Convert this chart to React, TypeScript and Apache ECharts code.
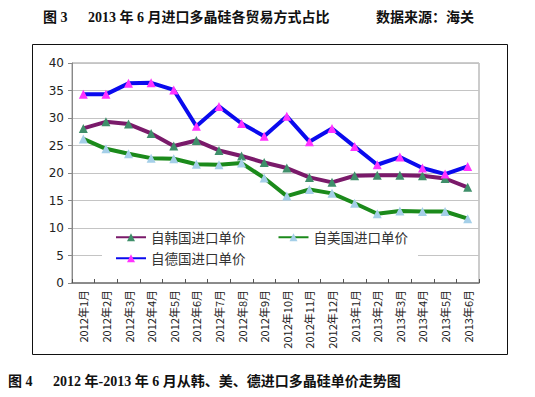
import React, { useEffect, useRef } from "react";
import * as echarts from "echarts";

const categories = [
  "2012年1月", "2012年2月", "2012年3月", "2012年4月", "2012年5月", "2012年6月",
  "2012年7月", "2012年8月", "2012年9月", "2012年10月", "2012年11月", "2012年12月",
  "2013年1月", "2013年2月", "2013年3月", "2013年4月", "2013年5月", "2013年6月",
];

const korea = [28.1, 29.3, 28.9, 27.2, 24.9, 25.9, 24.1, 23.1, 21.9, 20.9, 19.2, 18.3, 19.5, 19.6, 19.6, 19.5, 19.0, 17.4];
const usa = [26.2, 24.4, 23.5, 22.7, 22.6, 21.6, 21.5, 21.8, 19.1, 15.8, 17.0, 16.3, 14.5, 12.6, 13.1, 13.0, 13.0, 11.7];
const germany = [34.3, 34.3, 36.3, 36.4, 35.1, 28.5, 32.1, 29.0, 26.7, 30.3, 25.7, 28.1, 24.8, 21.5, 22.9, 20.9, 19.8, 21.2];

const seriesNames = ["自韩国进口单价", "自美国进口单价", "自德国进口单价"];

const topTitleLeft = "图 3";
const topTitle = "2013 年 6 月进口多晶硅各贸易方式占比";
const topSource = "数据来源：海关";
const bottomTitleLeft = "图 4";
const bottomTitle = "2012 年-2013 年 6 月从韩、美、德进口多晶硅单价走势图";

export default function App() {
  const ref = useRef<HTMLDivElement>(null);
  useEffect(() => {
    if (!ref.current) return;
    const chart = echarts.init(ref.current, undefined, { renderer: "svg" });
    const cjk = "'Noto Sans CJK SC', 'Noto Sans', sans-serif";
    const titleFont = "'Liberation Serif', 'Noto Sans CJK SC', serif";
    const legendText = { fontSize: 13.5, color: "#333", fontFamily: cjk, lineHeight: 13 };
    chart.setOption({
      animation: false,
      backgroundColor: "#fff",
      grid: {
        left: 72,
        top: 63,
        width: 407,
        height: 220,
        show: true,
        borderColor: "#999",
        borderWidth: 1,
        backgroundColor: "transparent",
      },
      legend: [
        {
          data: [seriesNames[0], seriesNames[1]],
          left: 102,
          top: 229.5,
          orient: "horizontal",
          itemWidth: 30,
          itemHeight: 10,
          itemGap: 32,
          padding: [1, 10, 20, 13],
          backgroundColor: "#fff",
          textStyle: legendText,
          z: 4,
        },
        {
          data: [seriesNames[2]],
          left: 115,
          top: 251.5,
          orient: "horizontal",
          itemWidth: 30,
          itemHeight: 10,
          padding: 0,
          textStyle: legendText,
          z: 5,
        },
      ],
      xAxis: {
        type: "category",
        data: categories,
        boundaryGap: true,
        axisLine: { lineStyle: { color: "#777", width: 1.5 } },
        axisTick: { show: true, inside: true, length: 4, lineStyle: { color: "#555" } },
        axisLabel: {
          rotate: 90,
          interval: 0,
          fontSize: 11,
          margin: 7,
          color: "#222",
          fontFamily: cjk,
        },
        splitLine: { show: false },
      },
      yAxis: {
        type: "value",
        min: 0,
        max: 40,
        interval: 5,
        axisLine: { show: true, lineStyle: { color: "#888" } },
        axisTick: { show: true, length: 4, lineStyle: { color: "#888" } },
        axisLabel: { fontSize: 12, color: "#222", margin: 8, fontFamily: "'DejaVu Sans', sans-serif" },
        splitLine: { show: true, lineStyle: { color: "#c4c4c4", width: 1 } },
      },
      series: [
        {
          name: seriesNames[0],
          type: "line",
          data: korea,
          symbol: "triangle",
          symbolSize: 9,
          lineStyle: { color: "#7a1a6a", width: 4 },
          itemStyle: { color: "#3f8f6a" },
          z: 3,
        },
        {
          name: seriesNames[1],
          type: "line",
          data: usa,
          symbol: "triangle",
          symbolSize: 9,
          lineStyle: { color: "#1b8a1b", width: 4 },
          itemStyle: { color: "#a4cfe8" },
          z: 3,
        },
        {
          name: seriesNames[2],
          type: "line",
          data: germany,
          symbol: "triangle",
          symbolSize: 9,
          lineStyle: { color: "#0a0aee", width: 4 },
          itemStyle: { color: "#ff33ff" },
          z: 3,
        },
      ],
      graphic: [
        {
          type: "rect",
          shape: { x: 32.5, y: 44.5, width: 475, height: 310 },
          style: { fill: "none", stroke: "#111", lineWidth: 1 },
          z: -1,
          silent: true,
        },
        {
          type: "text",
          x: 43,
          y: 17,
          style: { text: topTitleLeft, font: `bold 14px ${titleFont}`, fill: "#111", verticalAlign: "middle" },
        },
        {
          type: "text",
          x: 88,
          y: 17,
          style: { text: topTitle, font: `bold 14px ${titleFont}`, fill: "#111", verticalAlign: "middle" },
        },
        {
          type: "text",
          x: 376,
          y: 17,
          style: { text: topSource, font: `bold 14px ${titleFont}`, fill: "#111", verticalAlign: "middle" },
        },
        {
          type: "text",
          x: 8,
          y: 381,
          style: { text: bottomTitleLeft, font: `bold 14px ${titleFont}`, fill: "#111", verticalAlign: "middle" },
        },
        {
          type: "text",
          x: 53,
          y: 381,
          style: { text: bottomTitle, font: `bold 14px ${titleFont}`, fill: "#111", verticalAlign: "middle" },
        },
      ],
    });
    return () => chart.dispose();
  }, []);
  return (
    <div
      ref={ref}
      style={{ position: "fixed", left: 0, top: 0, width: 535, height: 397 }}
    />
  );
}
